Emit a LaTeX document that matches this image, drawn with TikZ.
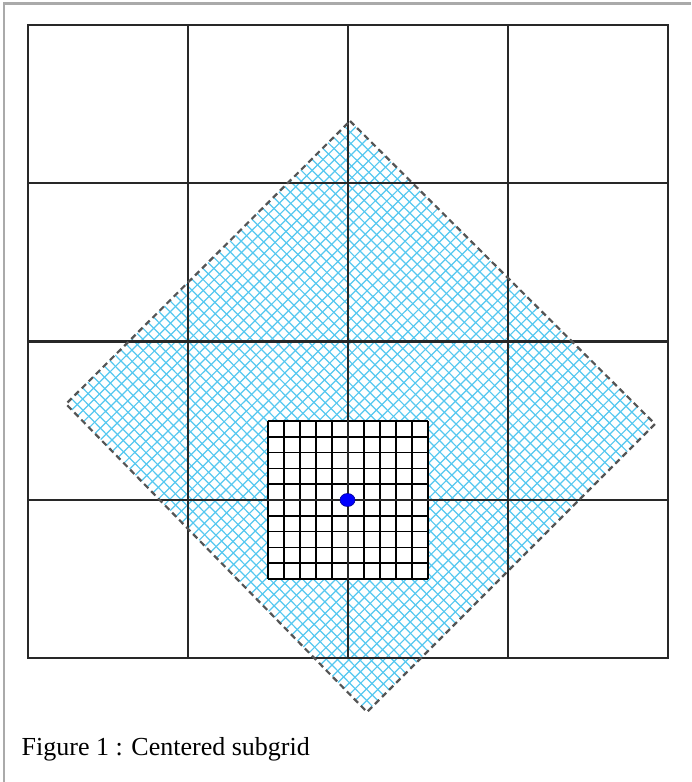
\documentclass[tikz,border=0pt]{standalone}
\usepackage{fontspec}
\setmainfont{Liberation Serif}
\usetikzlibrary{calc}
\definecolor{hatchc}{RGB}{85,200,240}
\definecolor{gridc}{RGB}{40,40,40}
\definecolor{framec}{RGB}{170,170,170}
\definecolor{dashc}{RGB}{85,85,85}
\tikzset{
  hatchline/.style={hatchc, line width=1.2pt},
  gridline/.style={gridc, line width=2.2pt},
  subline/.style={black, line width=1.6pt},
  diamondborder/.style={dashc, line width=2.2pt, dash pattern=on 6pt off 4pt},
  captionstyle/.style={anchor=base west, inner sep=0pt, font=\fontsize{26}{30}\selectfont}
}
\begin{document}
\begin{tikzpicture}[x=1pt,y=-1pt]
\useasboundingbox (0,0) rectangle (691,782);
\fill[white] (0,0) rectangle (691,782);
\draw[framec, line width=2.5pt] (4,782) -- (4,3.5) -- (691,3.5);
% diamond vertices
\coordinate (T) at (350,121);
\coordinate (R) at (655,424);
\coordinate (B) at (367,712);
\coordinate (L) at (66,404);
\begin{scope}
  \clip (T) -- (R) -- (B) -- (L) -- cycle;
  \foreach \i in {1,...,51} {
    \pgfmathsetmacro\t{\i/52}
    \draw[hatchline] ($(T)!\t!(L)$) -- ($(R)!\t!(B)$);
    \draw[hatchline] ($(T)!\t!(R)$) -- ($(L)!\t!(B)$);
  }
\end{scope}
% subgrid
\fill[white] (268,421) rectangle (428,579);
\foreach \k in {0,...,10} {
  \draw[subline] (268+16*\k,421) -- (268+16*\k,579);
  \draw[subline] (268,421+15.8*\k) -- (428,421+15.8*\k);
}
% main grid
\draw[gridline] (28,25) rectangle (668,658);
\foreach \x in {188,348,508} {
  \draw[gridline] (\x,25) -- (\x,658);
}
\foreach \y in {183.25,341.5,499.75} {
  \draw[gridline] (28,\y) -- (668,\y);
}
% diamond border
\draw[diamondborder] (T) -- (R) -- (B) -- (L) -- cycle;
% centre dot
\fill[blue, draw=blue!60!black, line width=0.6pt] (347.5,500) ellipse (7.5 and 6.5);
% caption
\node[captionstyle] (cap) at (21.5,755) {Figure 1 : Centered subgrid};
\end{tikzpicture}
\end{document}
